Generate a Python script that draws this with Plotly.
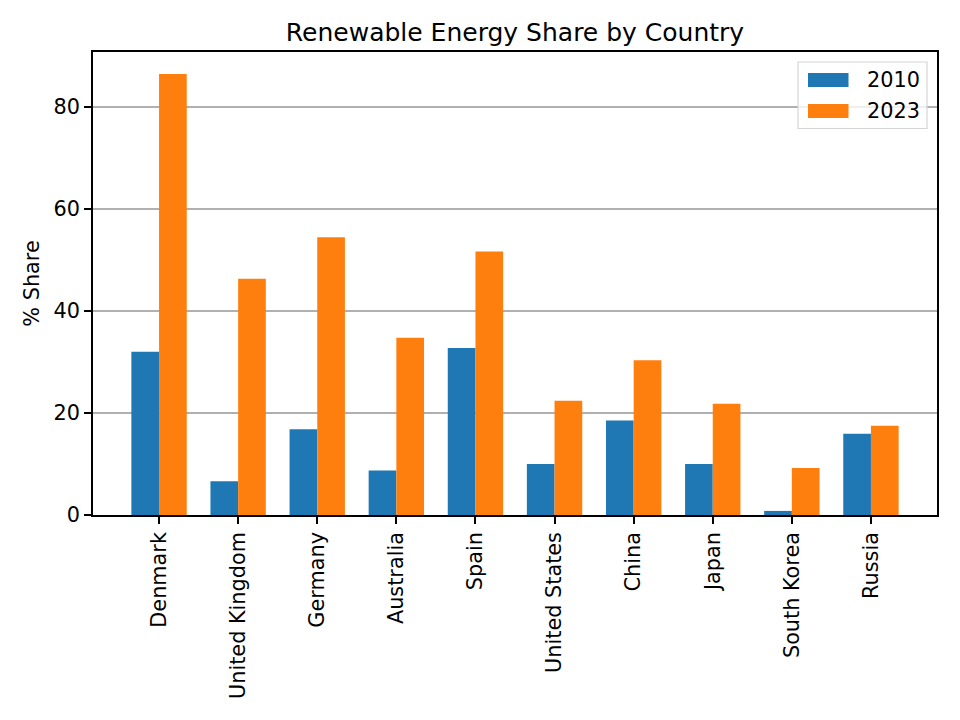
import plotly.graph_objects as go

countries = ["Denmark", "United Kingdom", "Germany", "Australia", "Spain",
             "United States", "China", "Japan", "South Korea", "Russia"]
share_2010 = [32.0, 6.6, 16.8, 8.7, 32.7, 10.0, 18.5, 10.0, 0.8, 15.9]
share_2023 = [86.4, 46.3, 54.4, 34.7, 51.6, 22.4, 30.3, 21.8, 9.2, 17.5]
yticks = [0, 20, 40, 60, 80]
series_names = ["2010", "2023"]
colors = ["#1f77b4", "#ff7f0e"]

FONT = "DejaVu Sans"
L, R, T, B = 93, 23, 52, 205
W, H = 960, 720
PW, PH = W - L - R, H - T - B


def px_x(p):
    return (p - L) / PW


def px_y(p):
    return (H - B - p) / PH


fig = go.Figure()
for name, vals, col in zip(series_names, [share_2010, share_2023], colors):
    fig.add_trace(go.Bar(x=countries, y=vals, name=name, marker_color=col,
                         marker_line_width=0, showlegend=False))

# custom legend resembling matplotlib's
shapes = [dict(type="rect", xref="paper", yref="paper",
               x0=px_x(798), x1=px_x(927), y0=px_y(62), y1=px_y(128.5),
               line=dict(color="#d5d5d5", width=1.2), fillcolor="rgba(255,255,255,0.8)",
               layer="above")]
annotations = []
for i, (name, col) in enumerate(zip(series_names, colors)):
    yc = 80 + i * 31
    shapes.append(dict(type="rect", xref="paper", yref="paper",
                       x0=px_x(808), x1=px_x(848.5), y0=px_y(yc - 7), y1=px_y(yc + 7),
                       line=dict(width=0), fillcolor=col, layer="above"))
    annotations.append(dict(text=name, xref="paper", yref="paper", x=px_x(865),
                            y=px_y(yc), xanchor="left", yanchor="middle", showarrow=False,
                            font=dict(size=20.8, family=FONT, color="black")))

fig.update_layout(
    width=W, height=H,
    margin=dict(l=L, r=R, t=T, b=B),
    paper_bgcolor="white", plot_bgcolor="white",
    barmode="group", bargap=0.3, bargroupgap=0,
    showlegend=False,
    font=dict(family=FONT, size=20.8, color="black"),
    title=dict(text="Renewable Energy Share by Country", x=0.5, xanchor="center",
               xref="paper", y=1 - 32 / 720, yanchor="middle", yref="container",
               font=dict(size=25, family=FONT, color="black")),
    shapes=shapes, annotations=annotations,
    xaxis=dict(range=[-0.835, 9.835], tickangle=-90, showline=True, linecolor="black",
               linewidth=1.5, mirror=True, ticks="outside", ticklen=7, tickwidth=1.5,
               tickcolor="black", showgrid=False, tickfont=dict(size=20.8)),
    yaxis=dict(range=[0, 90.7], tickvals=yticks, showline=True, linecolor="black",
               linewidth=1.5, mirror=True, ticks="outside", ticklen=7, tickwidth=1.5,
               tickcolor="black", showgrid=True, gridcolor="#b0b0b0", gridwidth=1.5,
               zeroline=False, layer="above traces",
               title=dict(text="% Share", font=dict(size=20.8), standoff=8),
               tickfont=dict(size=20.8)),
)
fig.write_html("out.html")
